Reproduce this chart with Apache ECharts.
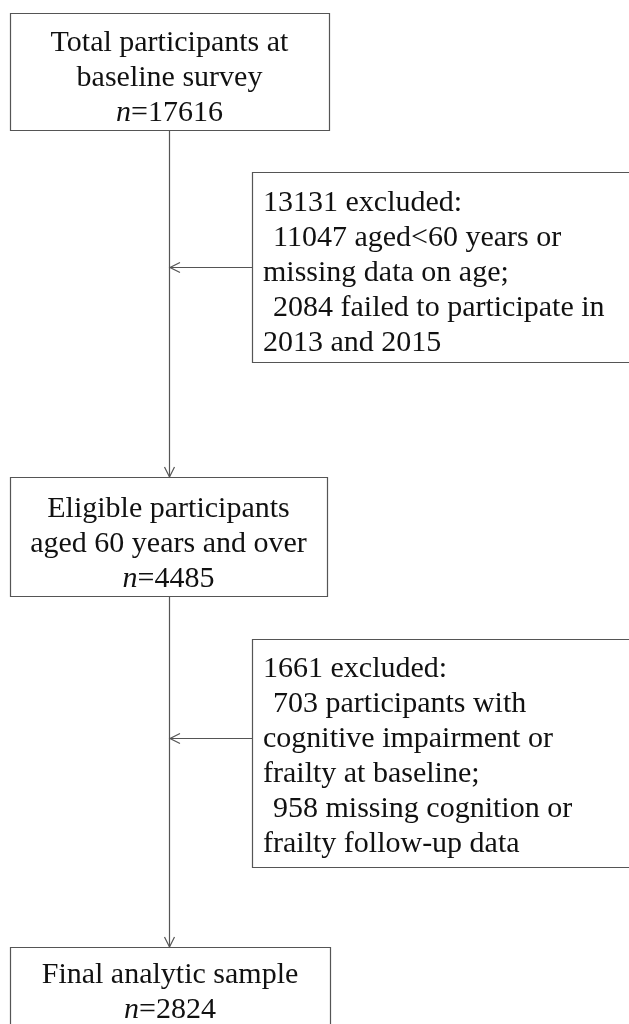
<!DOCTYPE html>
<html><head><meta charset="utf-8">
<style>html,body{margin:0;padding:0;background:#fff}#c{width:629px;height:1024px}</style>
<script src="https://cdn.jsdelivr.net/npm/echarts@6/dist/echarts.min.js"></script>
</head><body><div id="c"></div>
<script>
// ---- content ----
const mainBoxLines = [
  ["Total participants at", "baseline survey"],
  ["Eligible participants", "aged 60 years and over"],
  ["Final analytic sample"]
];
const mainBoxCounts = [17616, 4485, 2824];
const excludedTotals = [13131, 1661];
const excludedLines = [
  [" excluded:", " \u200A11047 aged<60 years or", "missing data on age;", " \u200A2084 failed to participate in", "2013 and 2015"],
  [" excluded:", " \u200A703 participants with", "cognitive impairment or", "frailty at baseline;", " \u200A958 missing cognition or", "frailty follow-up data"]
];

// ---- layout (pixels) ----
const FONT = '"Liberation Serif", "Times New Roman", serif';
const FS = 30, LH = 35;
const lineColor = '#555';
const textColor = '#111';
const mainBoxes = [
  {x: 10, y: 13, w: 319, h: 117, ty: 43},
  {x: 10, y: 477, w: 317, h: 119, ty: 509},
  {x: 10, y: 947, w: 320, h: 90, ty: 975}
];
const sideBoxes = [
  {x: 252, y: 172, w: 380, h: 190, ty: 203, ay: 267},
  {x: 252, y: 639, w: 380, h: 228, ty: 669, ay: 738}
];
const spineX = 169;

const els = [];
function rect(b){
  els.push({type:'rect', shape:{x:b.x+0.5, y:b.y+0.5, width:b.w, height:b.h},
    style:{fill:'#fff', stroke:lineColor, lineWidth:1.2}, z:1});
}
function line(x1,y1,x2,y2){
  els.push({type:'line', shape:{x1,y1,x2,y2}, style:{stroke:lineColor, lineWidth:1.2}, z:0});
}
function arrowDown(x,y){
  els.push({type:'polyline', shape:{points:[[x-5,y-10],[x,y],[x+5,y-10]]}, style:{stroke:lineColor, lineWidth:1.2, fill:null}, z:2});
}
function arrowLeft(x,y){
  els.push({type:'polyline', shape:{points:[[x+10,y-5],[x,y],[x+10,y+5]]}, style:{stroke:lineColor, lineWidth:1.2, fill:null}, z:2});
}

// spine
line(spineX+0.5, mainBoxes[0].y+mainBoxes[0].h, spineX+0.5, mainBoxes[1].y);
arrowDown(spineX+0.5, mainBoxes[1].y);
line(spineX+0.5, mainBoxes[1].y+mainBoxes[1].h, spineX+0.5, mainBoxes[2].y);
arrowDown(spineX+0.5, mainBoxes[2].y);

mainBoxes.forEach((b,i)=>{
  rect(b);
  const txt = mainBoxLines[i].join('\n') + '\n{i|n}=' + mainBoxCounts[i];
  els.push({type:'text', x: b.x + b.w/2, y: b.ty - LH/2, z:3,
    style:{text: txt, font: FS+'px '+FONT, fill:textColor, align:'center',
      lineHeight: LH, verticalAlign:'top',
      rich:{i:{fontStyle:'italic', fontSize:FS, fontFamily:FONT, fill:textColor, lineHeight:LH}}}
  });
});
sideBoxes.forEach((b,i)=>{
  line(b.x, b.ay+0.5, spineX+1, b.ay+0.5);
  arrowLeft(spineX+1, b.ay+0.5);
  rect(b);
  const lines = excludedLines[i].slice();
  lines[0] = excludedTotals[i] + lines[0];
  els.push({type:'text', x: b.x + 11, y: b.ty - LH/2, z:3,
    style:{text: lines.join('\n'), font: FS+'px '+FONT, fill:textColor, align:'left',
      verticalAlign:'top', lineHeight: LH}});
});

const chart = echarts.init(document.getElementById('c'), null, {renderer:'canvas'});
chart.setOption({backgroundColor:'#fff', animation:false, graphic:{elements: els}});
</script></body></html>
